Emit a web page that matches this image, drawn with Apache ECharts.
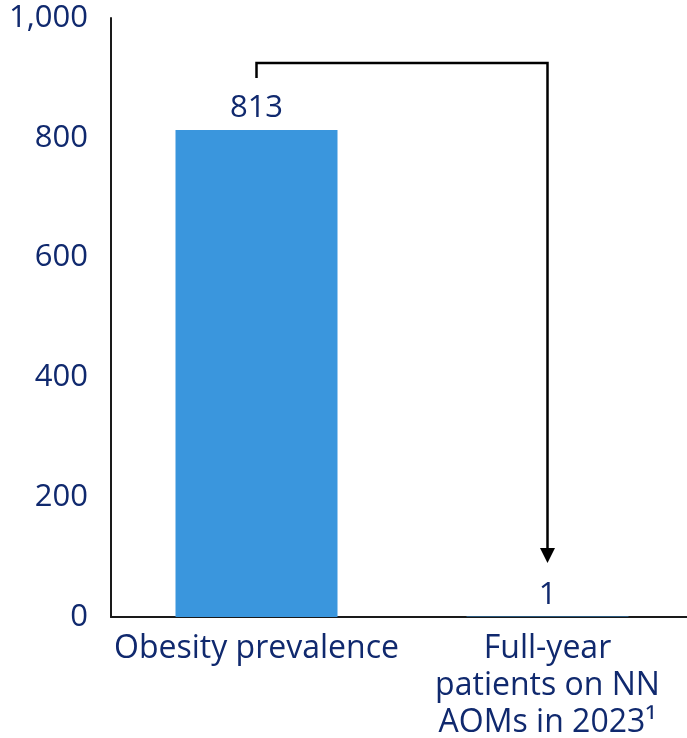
<!DOCTYPE html>
<html><head><meta charset="utf-8">
<script src="https://cdn.jsdelivr.net/npm/echarts@6/dist/echarts.min.js"></script>
<style>html,body{margin:0;padding:0;background:#fff}#c{width:687px;height:738px}</style>
</head><body><div id="c"></div>
<script>
const categories = ['Obesity prevalence', 'Full-year\npatients on NN\nAOMs in 2023¹'];
const values = [813, 1];
const yTicks = [0, 200, 400, 600, 800, 1000];
const bracketTop = 925, bracketLeftEnd = 900, arrowTip = 90;

const navy = '#10296e';
const font = 'Open Sans';
const chart = echarts.init(document.getElementById('c'));
chart.setOption({
  animation: false,
  grid: {left: 111, right: -6, top: 18, bottom: 121, outerBoundsMode: 'none', containLabel: false},
  xAxis: {
    type: 'category', data: categories,
    axisLine: {lineStyle: {color: '#1a1a1a', width: 2}},
    axisTick: {show: false},
    axisLabel: {color: navy, fontSize: 32, fontFamily: font, margin: 13, lineHeight: 37, interval: 0}
  },
  yAxis: {
    type: 'value', min: yTicks[0], max: yTicks[yTicks.length-1], interval: 200,
    axisLine: {show: true, lineStyle: {color: '#1a1a1a', width: 2}},
    axisTick: {show: false},
    splitLine: {show: false},
    axisLabel: {color: navy, fontSize: 31, fontFamily: font, margin: 23,
      formatter: v => v.toLocaleString('en-US')}
  },
  series: [{
    type: 'bar', data: values, barWidth: 162,
    itemStyle: {color: '#3a96dd'},
    label: {show: true, position: 'top', distance: 6, color: navy, fontSize: 31, fontFamily: font}
  }]
});
const p0 = chart.convertToPixel({gridIndex: 0}, [0, bracketLeftEnd]);
const pTop = chart.convertToPixel({gridIndex: 0}, [0, bracketTop]);
const p1 = chart.convertToPixel({gridIndex: 0}, [1, arrowTip]);
const x0 = p0[0], x1 = p1[0];
chart.setOption({
  graphic: [
    {type: 'polyline', shape: {points: [[x0, p0[1]], [x0, pTop[1]], [x1, pTop[1]], [x1, p1[1] - 14]]},
     style: {stroke: '#000', lineWidth: 2.5, fill: null}},
    {type: 'polygon', shape: {points: [[x1 - 7.5, p1[1] - 15], [x1 + 7.5, p1[1] - 15], [x1, p1[1]]]},
     style: {fill: '#000'}}
  ]
});
</script></body></html>
